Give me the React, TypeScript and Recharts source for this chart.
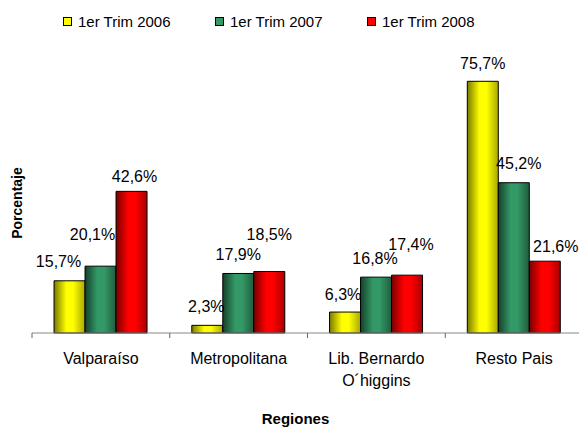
import React from 'react';
import { BarChart, Bar, XAxis, YAxis, Legend, LabelList } from 'recharts';

const regions = ['Valparaíso', 'Metropolitana', 'Lib. Bernardo\nO´higgins', 'Resto Pais'];
const trim2006 = [15.7, 2.3, 6.3, 75.7];
const trim2007 = [20.1, 17.9, 16.8, 45.2];
const trim2008 = [42.6, 18.5, 17.4, 21.6];

// hand-placed label nudges (dx from bar centre, dy from bar top), as in the original
const nudge2006 = [[-11, -19], [-1, -19], [-2, -18], [0, -18]];
const nudge2007 = [[-8, -32], [0, -19], [-1, -19], [5, -19]];
const nudge2008 = [[3, -15], [0, -37], [4, -31], [11, -15]];

const series = [
  { key: 't2006', name: '1er Trim 2006', color: '#ffff00', dark: '#7a7a00', edge: '#a8a800', nudge: nudge2006 },
  { key: 't2007', name: '1er Trim 2007', color: '#339966', dark: '#16402b', edge: '#1f5c3d', nudge: nudge2007 },
  { key: 't2008', name: '1er Trim 2008', color: '#ff0000', dark: '#7a0000', edge: '#a80000', nudge: nudge2008 },
];

const data = regions.map((region, i) => ({
  region,
  t2006: trim2006[i],
  t2007: trim2007[i],
  t2008: trim2008[i],
}));

const fmt = (v: number) => v.toFixed(1).replace('.', ',') + '%';

const CHART_W = 583;
const LEFT = 32;

const CategoryTick = (props: any) => {
  const { x, y, payload } = props;
  const half = payload.offset ?? (CHART_W - LEFT) / regions.length / 2;
  const lines = String(payload.value).split('\n');
  return (
    <g>
      <line x1={x - half} x2={x - half} y1={y} y2={y + 5} stroke="#666" />
      <text x={x} y={y + 31} textAnchor="middle" fontSize={16} fill="#000">
        {lines.map((l, i) => (
          <tspan key={i} x={x} dy={i === 0 ? 0 : 22}>{l}</tspan>
        ))}
      </text>
    </g>
  );
};

const makeLabel = (nudge: number[][]) => (props: any) => {
  const { x, y, width, value, index } = props;
  const [dx, dy] = nudge[index];
  return (
    <text
      x={x + width / 2 + dx}
      y={y + dy}
      textAnchor="middle"
      dominantBaseline="central"
      fontSize={16}
      fill="#000"
    >
      {fmt(value)}
    </text>
  );
};

const LegendContent = () => (
  <div style={{ display: 'flex', height: 24, alignItems: 'center', paddingLeft: 63 }}>
    {series.map(s => (
      <div key={s.key} style={{ display: 'flex', alignItems: 'center', width: 152 }}>
        <span
          style={{
            width: 9,
            height: 9,
            boxSizing: 'border-box',
            border: '1px solid #000',
            background: s.color,
            marginRight: 6,
          }}
        />
        <span style={{ fontSize: 15, color: '#000', whiteSpace: 'nowrap' }}>{s.name}</span>
      </div>
    ))}
  </div>
);

export default function App() {
  return (
    <div
      style={{
        position: 'absolute',
        left: 0,
        top: 0,
        width: 579,
        height: 428,
        overflow: 'hidden',
        background: '#fff',
        fontFamily: '"Liberation Sans", Arial, sans-serif',
      }}
    >
      <BarChart
        width={CHART_W}
        height={428}
        data={data}
        margin={{ top: 43, right: 0, bottom: 0, left: 0 }}
        barCategoryGap="16%"
        barGap={0}
      >
        <defs>
          {series.map(s => (
            <linearGradient key={s.key} id={'grad-' + s.key} x1="0" y1="0" x2="1" y2="0">
              <stop offset="0%" stopColor={s.dark} />
              <stop offset="40%" stopColor={s.color} />
              <stop offset="62%" stopColor={s.color} />
              <stop offset="100%" stopColor={s.edge} />
            </linearGradient>
          ))}
        </defs>
        <Legend
          verticalAlign="top"
          align="left"
          content={<LegendContent />}
          wrapperStyle={{ top: 9, left: 0, width: 579 }}
        />
        <XAxis
          dataKey="region"
          height={95}
          tickSize={0}
          tickMargin={0}
          tickLine={false}
          interval={0}
          axisLine={{ stroke: '#888' }}
          tick={<CategoryTick />}
          label={{
            value: 'Regiones',
            position: 'insideBottom',
            offset: 4,
            dx: -12,
            fontSize: 15,
            fontWeight: 'bold',
            fill: '#000',
          }}
        />
        <YAxis
          width={LEFT}
          domain={[0, 80]}
          axisLine={false}
          tickLine={false}
          tick={false}
          label={{
            value: 'Porcentaje',
            angle: -90,
            position: 'center',
            dx: 1,
            dy: 3,
            fontSize: 14,
            fontWeight: 'bold',
            fill: '#000',
          }}
        />
        {series.map(s => (
          <Bar
            key={s.key}
            dataKey={s.key}
            name={s.name}
            fill={'url(#grad-' + s.key + ')'}
            stroke="#000"
            strokeWidth={1}
            isAnimationActive={false}
          >
            <LabelList dataKey={s.key} content={makeLabel(s.nudge)} />
          </Bar>
        ))}
      </BarChart>
    </div>
  );
}
